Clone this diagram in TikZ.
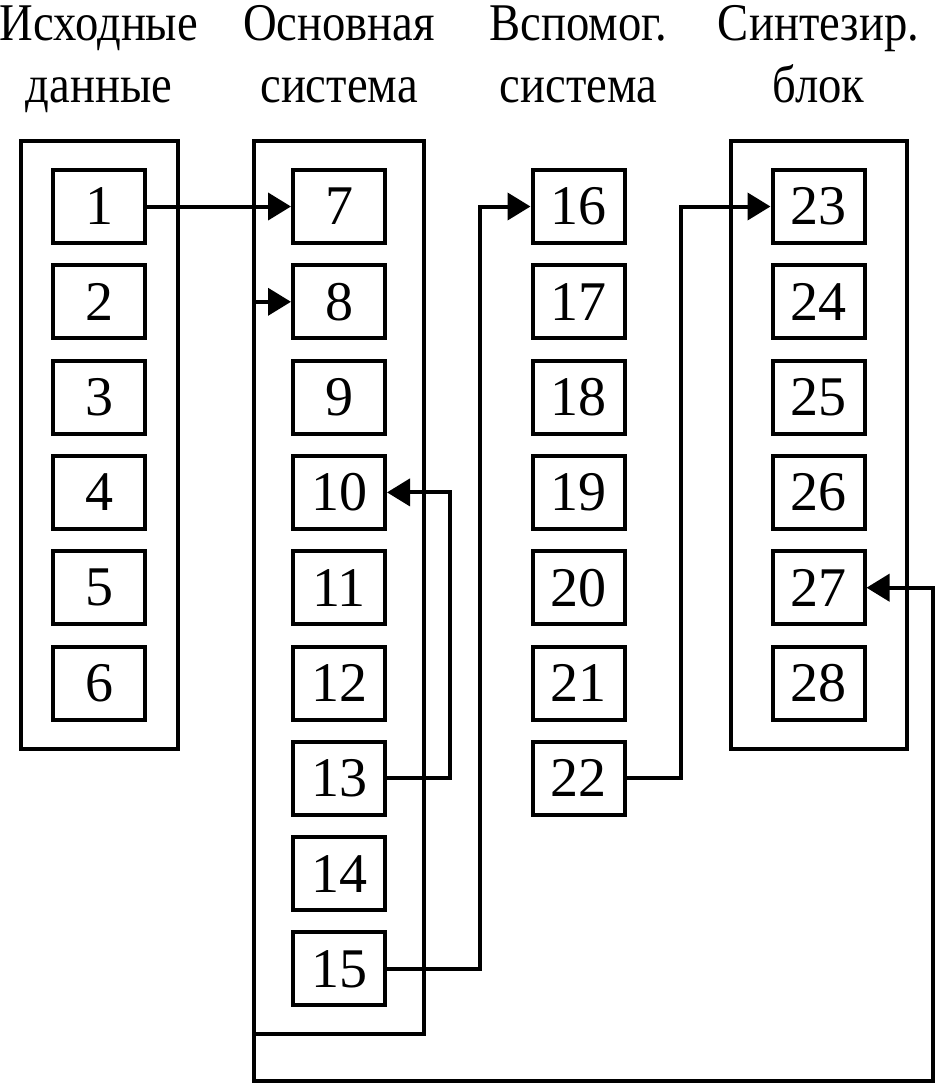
\documentclass[tikz,border=0pt]{standalone}
\usepackage{fontspec}
\setmainfont{Liberation Serif}
\newfontfamily\headfont{Liberation Serif}[FakeStretch=0.88]
\usetikzlibrary{arrows.meta, positioning, fit}
\tikzset{block/.style={draw, line width=4pt, minimum width=92pt, minimum height=73pt, inner sep=0pt, font=\fontsize{56}{56}\selectfont}}
\tikzset{sysframe/.style={draw, line width=4pt, inner ysep=27pt, outer sep=0pt}}
\tikzset{head/.style={align=center, inner sep=0pt, font=\headfont\fontsize{53}{62}\selectfont}}
\tikzset{flow/.style={line width=4pt, -{Triangle[length=23pt, width=27pt]}}}

\begin{document}
\begin{tikzpicture}[x=1pt, y=-1pt, node distance=18.3pt]
\useasboundingbox (0,0) rectangle (936,1084);

\node[block] (in1) at (99,206.5) {1};
\node[block, below=of in1] (in2) {2};
\node[block, below=of in2] (in3) {3};
\node[block, below=of in3] (in4) {4};
\node[block, below=of in4] (in5) {5};
\node[block, below=of in5] (in6) {6};
\node[sysframe, inner xsep=30.5pt, fit=(in1) (in6)] (inputframe) {};

\node[block] (main7) at (339,206.5) {7};
\node[block, below=of main7] (main8) {8};
\node[block, below=of main8] (main9) {9};
\node[block, below=of main9] (main10) {10};
\node[block, below=of main10] (main11) {11};
\node[block, below=of main11] (main12) {12};
\node[block, below=of main12] (main13) {13};
\node[block, below=of main13] (main14) {14};
\node[block, below=of main14] (main15) {15};
\node[sysframe, inner xsep=37pt, fit=(main7) (main15)] (mainframe) {};

\node[block] (aux16) at (578.5,206.5) {16};
\node[block, below=of aux16] (aux17) {17};
\node[block, below=of aux17] (aux18) {18};
\node[block, below=of aux18] (aux19) {19};
\node[block, below=of aux19] (aux20) {20};
\node[block, below=of aux20] (aux21) {21};
\node[block, below=of aux21] (aux22) {22};

\node[block] (synth23) at (818.5,206.5) {23};
\node[block, below=of synth23] (synth24) {24};
\node[block, below=of synth24] (synth25) {25};
\node[block, below=of synth25] (synth26) {26};
\node[block, below=of synth26] (synth27) {27};
\node[block, below=of synth27] (synth28) {28};
\node[sysframe, inner xsep=40pt, fit=(synth23) (synth28)] (synthframe) {};

% headings
\coordinate (headline) at (0,102);
\node[head, anchor=base] (inputhead) at (inputframe.north |- headline) {Исходные\\данные};
\node[head, anchor=base] (mainhead) at (mainframe.north |- headline) {Основная\\система};
\node[head, anchor=base] (auxhead) at (aux16.north |- headline) {Вспомог.\\система};
\node[head, anchor=base] (synthhead) at (synthframe.north |- headline) {Синтезир.\\блок};

% links
\draw[flow] (in1) -- (main7);
\draw[flow] (mainframe.west |- main8) -- (main8);
\draw[flow] (main13.east) -- ++(63,0) |- (main10.east);
\draw[flow] (main15.east) -- ++(93,0) |- (aux16.west);
\draw[flow] (aux22.east) -- ++(54,0) |- (synth23.west);
\coordinate (loopcorner) at (933,1081);
\draw[flow] (mainframe.south west) |- (loopcorner) |- (synth27.east);
\end{tikzpicture}
\end{document}
